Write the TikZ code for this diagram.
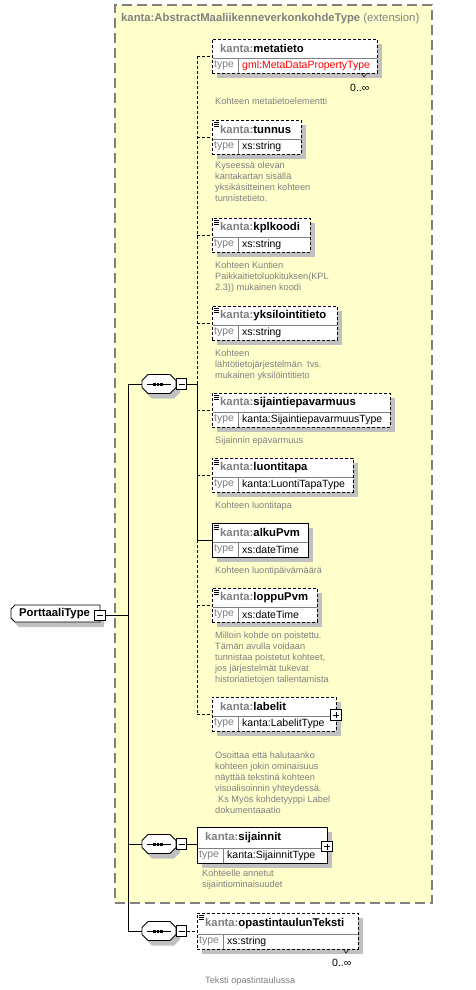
\documentclass[tikz,border=0pt]{standalone}
\usepackage{fontspec}
\setmainfont{Liberation Sans}
\usetikzlibrary{calc}
\definecolor{extf}{RGB}{255,255,204}
\definecolor{gtxt}{RGB}{128,128,128}
\definecolor{shad}{RGB}{192,192,192}
\definecolor{tred}{RGB}{255,0,0}
\tikzset{
 optb/.style={draw=black, dash pattern=on 3pt off 2pt, line width=0.9pt},
 reqb/.style={draw=black, line width=0.9pt},
 optl/.style={draw=black, dash pattern=on 3pt off 2pt, line width=0.9pt},
 reql/.style={draw=black, line width=0.9pt},
 divl/.style={draw=gtxt, line width=0.7pt},
 extb/.style={draw=gtxt, dash pattern=on 10pt off 5pt, line width=1.3pt, fill=extf},
 nm/.style={font=\fontsize{11.3}{13}\selectfont\bfseries, anchor=west, inner sep=0},
 ty/.style={font=\fontsize{10.5}{12}\selectfont, anchor=west, inner sep=0},
 ds/.style={font=\fontsize{9.2}{11}\selectfont, text=gtxt, anchor=north west, inner sep=0, align=left},
 pmb/.style={draw=black, fill=white, minimum size=10.5pt, inner sep=0, line width=0.8pt},
 mult/.style={font=\fontsize{10.5}{12}\selectfont, anchor=west, inner sep=0},
}
\def\bh{34}
\def\nh{19}
% element box: id, x, y, w, name, type, border style, type colour
\newcommand{\elbox}[8]{%
 \pgfmathsetmacro\tyy{#3+(\nh+\bh)/2}%
 \pgfmathsetmacro\nmy{#3+\nh/2}%
 \fill[shad] (#2+5,#3+5) rectangle (#2+#4+5,#3+\bh+5);
 \node[#7, fill=white, anchor=north west, minimum width=#4pt, minimum height=\bh pt, inner sep=0, outer sep=0] (#1) at (#2,#3) {};
 \draw[divl] (#2+0.5,#3+\nh) -- (#2+#4-0.5,#3+\nh);
 \draw[divl] (#2+26,#3+\nh) -- (#2+26,#3+\bh-0.5);
 \node[nm] (#1-n) at (#2+8,\nmy) {\textcolor{gtxt}{kanta:}#5};
 \node[ty, text=gtxt] (#1-k) at (#2+2,\tyy) {type};
 \node[ty, text=#8] (#1-v) at (#2+30,\tyy) {#6};
}
\newcommand{\elicon}[2]{%
 \draw[line width=0.7pt] (#1+2,#2+2.5) -- (#1+7,#2+2.5) (#1+2,#2+4.5) -- (#1+7,#2+4.5) (#1+2,#2+6.5) -- (#1+7,#2+6.5);
}
\newcommand{\desc}[4]{%
 \node[ds] (#1) at (#2,#3-9) {\rule{0pt}{9pt}#4};
}
\newcommand{\minusbox}[3]{%
 \node[pmb] (#1) at (#2,#3) {};
 \draw[line width=0.8pt] (#2-3,#3) -- (#2+3,#3);
}
\newcommand{\plusbox}[3]{%
 \node[pmb] (#1) at (#2,#3) {};
 \draw[line width=0.8pt] (#2-3,#3) -- (#2+3,#3) (#2,#3-3) -- (#2,#3+3);
}
\newcommand{\octpath}[2]{(#1+6,#2-9.5) -- (#1+28,#2-9.5) -- (#1+34,#2-3.5) -- (#1+34,#2+3.5) -- (#1+28,#2+9.5) -- (#1+6,#2+9.5) -- (#1,#2+3.5) -- (#1,#2-3.5) -- cycle}
\newcommand{\seqc}[3]{%
 \fill[shad] \octpath{#2+4}{#3+5};
 \draw[reql, fill=white] \octpath{#2}{#3};
 \node[minimum width=34pt, minimum height=19pt, inner sep=0, anchor=west] (#1) at (#2,#3) {};
 \draw[line width=0.9pt] (#2+5,#3) -- (#2+29,#3);
 \fill (#2+11.2,#3-1.5) rectangle (#2+13.8,#3+1.5);
 \fill (#2+14.7,#3-1.5) rectangle (#2+17.3,#3+1.5);
 \fill (#2+18.2,#3-1.5) rectangle (#2+20.8,#3+1.5);
 \minusbox{#1m}{#2+39.5}{#3}
}
\newcommand{\multmark}[2]{%
 \draw[line width=0.7pt, dash pattern=on 1pt off 0.6pt] (#1-3,#2) -- (#1,#2+4) -- (#1+3,#2);
}
\begin{document}
\begin{tikzpicture}[x=1pt,y=-1pt]
\useasboundingbox (0,0) rectangle (475,990);
% extension box
\node[extb, anchor=north west, minimum width=317pt, minimum height=898pt, inner sep=0, outer sep=0] (ext) at (115,5) {};
\node[anchor=west, inner sep=0, text=gtxt, font=\fontsize{11.3}{13}\selectfont] (title) at (121,19) {\textbf{kanta:AbstractMaaliikenneverkonkohdeType} (extension)};

% root
\fill[shad] (19,610) -- (104,610) -- (104,627) -- (19,627) -- (15,623) -- (15,614) -- cycle;
\draw[reql, fill=white] (15,605) -- (100,605) -- (100,622) -- (15,622) -- (11,618) -- (11,609) -- cycle;
\node[minimum width=89pt, minimum height=17pt, inner sep=0, anchor=north west] (root) at (11,605) {};
\node[nm] (root-n) at (19,613.5) {PorttaaliType};
\minusbox{rootm}{100}{615.5}

% sequences
\seqc{s1}{142}{384}
\seqc{s2}{142}{844}
\seqc{s3}{142}{931}

% elements in first sequence
\elbox{meta}{212}{39}{165}{metatieto}{gml:MetaDataPropertyType}{optb}{tred}
\multmark{364}{73}
\node[mult] (meta-m) at (350,88) {0..∞};
\desc{meta-d}{215}{104.5}{Kohteen metatietoelementti}

\elbox{tunnus}{212}{120}{89}{tunnus}{xs:string}{optb}{black}
\elicon{212}{120}
\desc{tunnus-d}{215}{168.5}{Kyseessä olevan\\kantakartan sisällä\\yksikäsitteinen kohteen\\tunnistetieto.}

\elbox{kpl}{212}{218}{98}{kplkoodi}{xs:string}{optb}{black}
\elicon{212}{218}
\desc{kpl-d}{215}{268}{Kohteen Kuntien\\Paikkaitietoluokituksen(KPL\\2.3)) mukainen koodi}

\elbox{yks}{212}{306}{125}{yksilointitieto}{xs:string}{optb}{black}
\elicon{212}{306}
\desc{yks-d}{215}{356}{Kohteen\\lähtötietojärjestelmän\ \ tvs.\\mukainen yksilöintitieto}

\elbox{sij}{212}{393}{178}{sijaintiepavarmuus}{kanta:SijaintiepavarmuusType}{optb}{black}
\elicon{212}{393}
\desc{sij-d}{215}{443}{Sijainnin epävarmuus}

\elbox{luo}{212}{458}{141}{luontitapa}{kanta:LuontiTapaType}{optb}{black}
\elicon{212}{458}
\desc{luo-d}{215}{508}{Kohteen luontitapa}

\elbox{alku}{212}{523}{96}{alkuPvm}{xs:dateTime}{reqb}{black}
\elicon{212}{523}
\desc{alku-d}{215}{573}{Kohteen luontipäivämäärä}

\elbox{loppu}{212}{588}{105}{loppuPvm}{xs:dateTime}{optb}{black}
\elicon{212}{588}
\desc{loppu-d}{215}{638}{Milloin kohde on poistettu.\\Tämän avulla voidaan\\tunnistaa poistetut kohteet,\\jos järjestelmät tukevat\\historiatietojen tallentamista}

\elbox{lab}{212}{697}{124}{labelit}{kanta:LabelitType}{optb}{black}
\plusbox{lab-p}{336}{715}
\desc{lab-d}{215}{758}{Osoittaa että halutaanko\\kohteen jokin ominaisuus\\näyttää tekstinä kohteen\\visualisoinnin yhteydessä.\\\hspace*{3pt}Ks Myös kohdetyyppi Label\\dokumentaaatio}

% second and third sequence children
\def\bh{36}
\def\nh{21}
\elbox{sijn}{197}{827}{130}{sijainnit}{kanta:SijainnitType}{reqb}{black}
\plusbox{sijn-p}{327}{846.5}
\desc{sijn-d}{202}{876}{Kohteelle annetut\\sijaintiominaisuudet}

\elbox{opa}{197}{913}{161}{opastintaulunTeksti}{xs:string}{optb}{black}
\elicon{197}{913}
\multmark{346}{949}
\node[mult] (opa-m) at (332,963) {0..∞};
\desc{opa-d}{205}{983}{Teksti opastintaulussa}

% connectors
\coordinate (trunk) at (128,0);
\coordinate (bus) at (197,0);
\draw[reql] (rootm.east) -- (trunk|-rootm.east);
\draw[reql] (trunk|-s1.west) -- (trunk|-s3.west);
\draw[reql] (trunk|-s1.west) -- (s1.west);
\draw[reql] (trunk|-s2.west) -- (s2.west);
\draw[reql] (trunk|-s3.west) -- (s3.west);

\draw[reql] (s1m.east) -- (bus|-s1m.east);
\draw[optl] (bus|-meta.west) -- (bus|-s1m.east);
\draw[reql] (bus|-s1m.east) -- (bus|-alku.west);
\draw[optl] (bus|-alku.west) -- (bus|-lab.west);
\draw[optl] (bus|-meta.west) -- (meta.west);
\draw[optl] (bus|-tunnus.west) -- (tunnus.west);
\draw[optl] (bus|-kpl.west) -- (kpl.west);
\draw[optl] (bus|-yks.west) -- (yks.west);
\draw[optl] (bus|-sij.west) -- (sij.west);
\draw[optl] (bus|-luo.west) -- (luo.west);
\draw[reql] (bus|-alku.west) -- (alku.west);
\draw[optl] (bus|-loppu.west) -- (loppu.west);
\draw[optl] (bus|-lab.west) -- (lab.west);

\draw[reql] (s2m.east) -- (sijn.west|-s2m.east);
\draw[optl] (s3m.east) -- (opa.west|-s3m.east);
\end{tikzpicture}
\end{document}
